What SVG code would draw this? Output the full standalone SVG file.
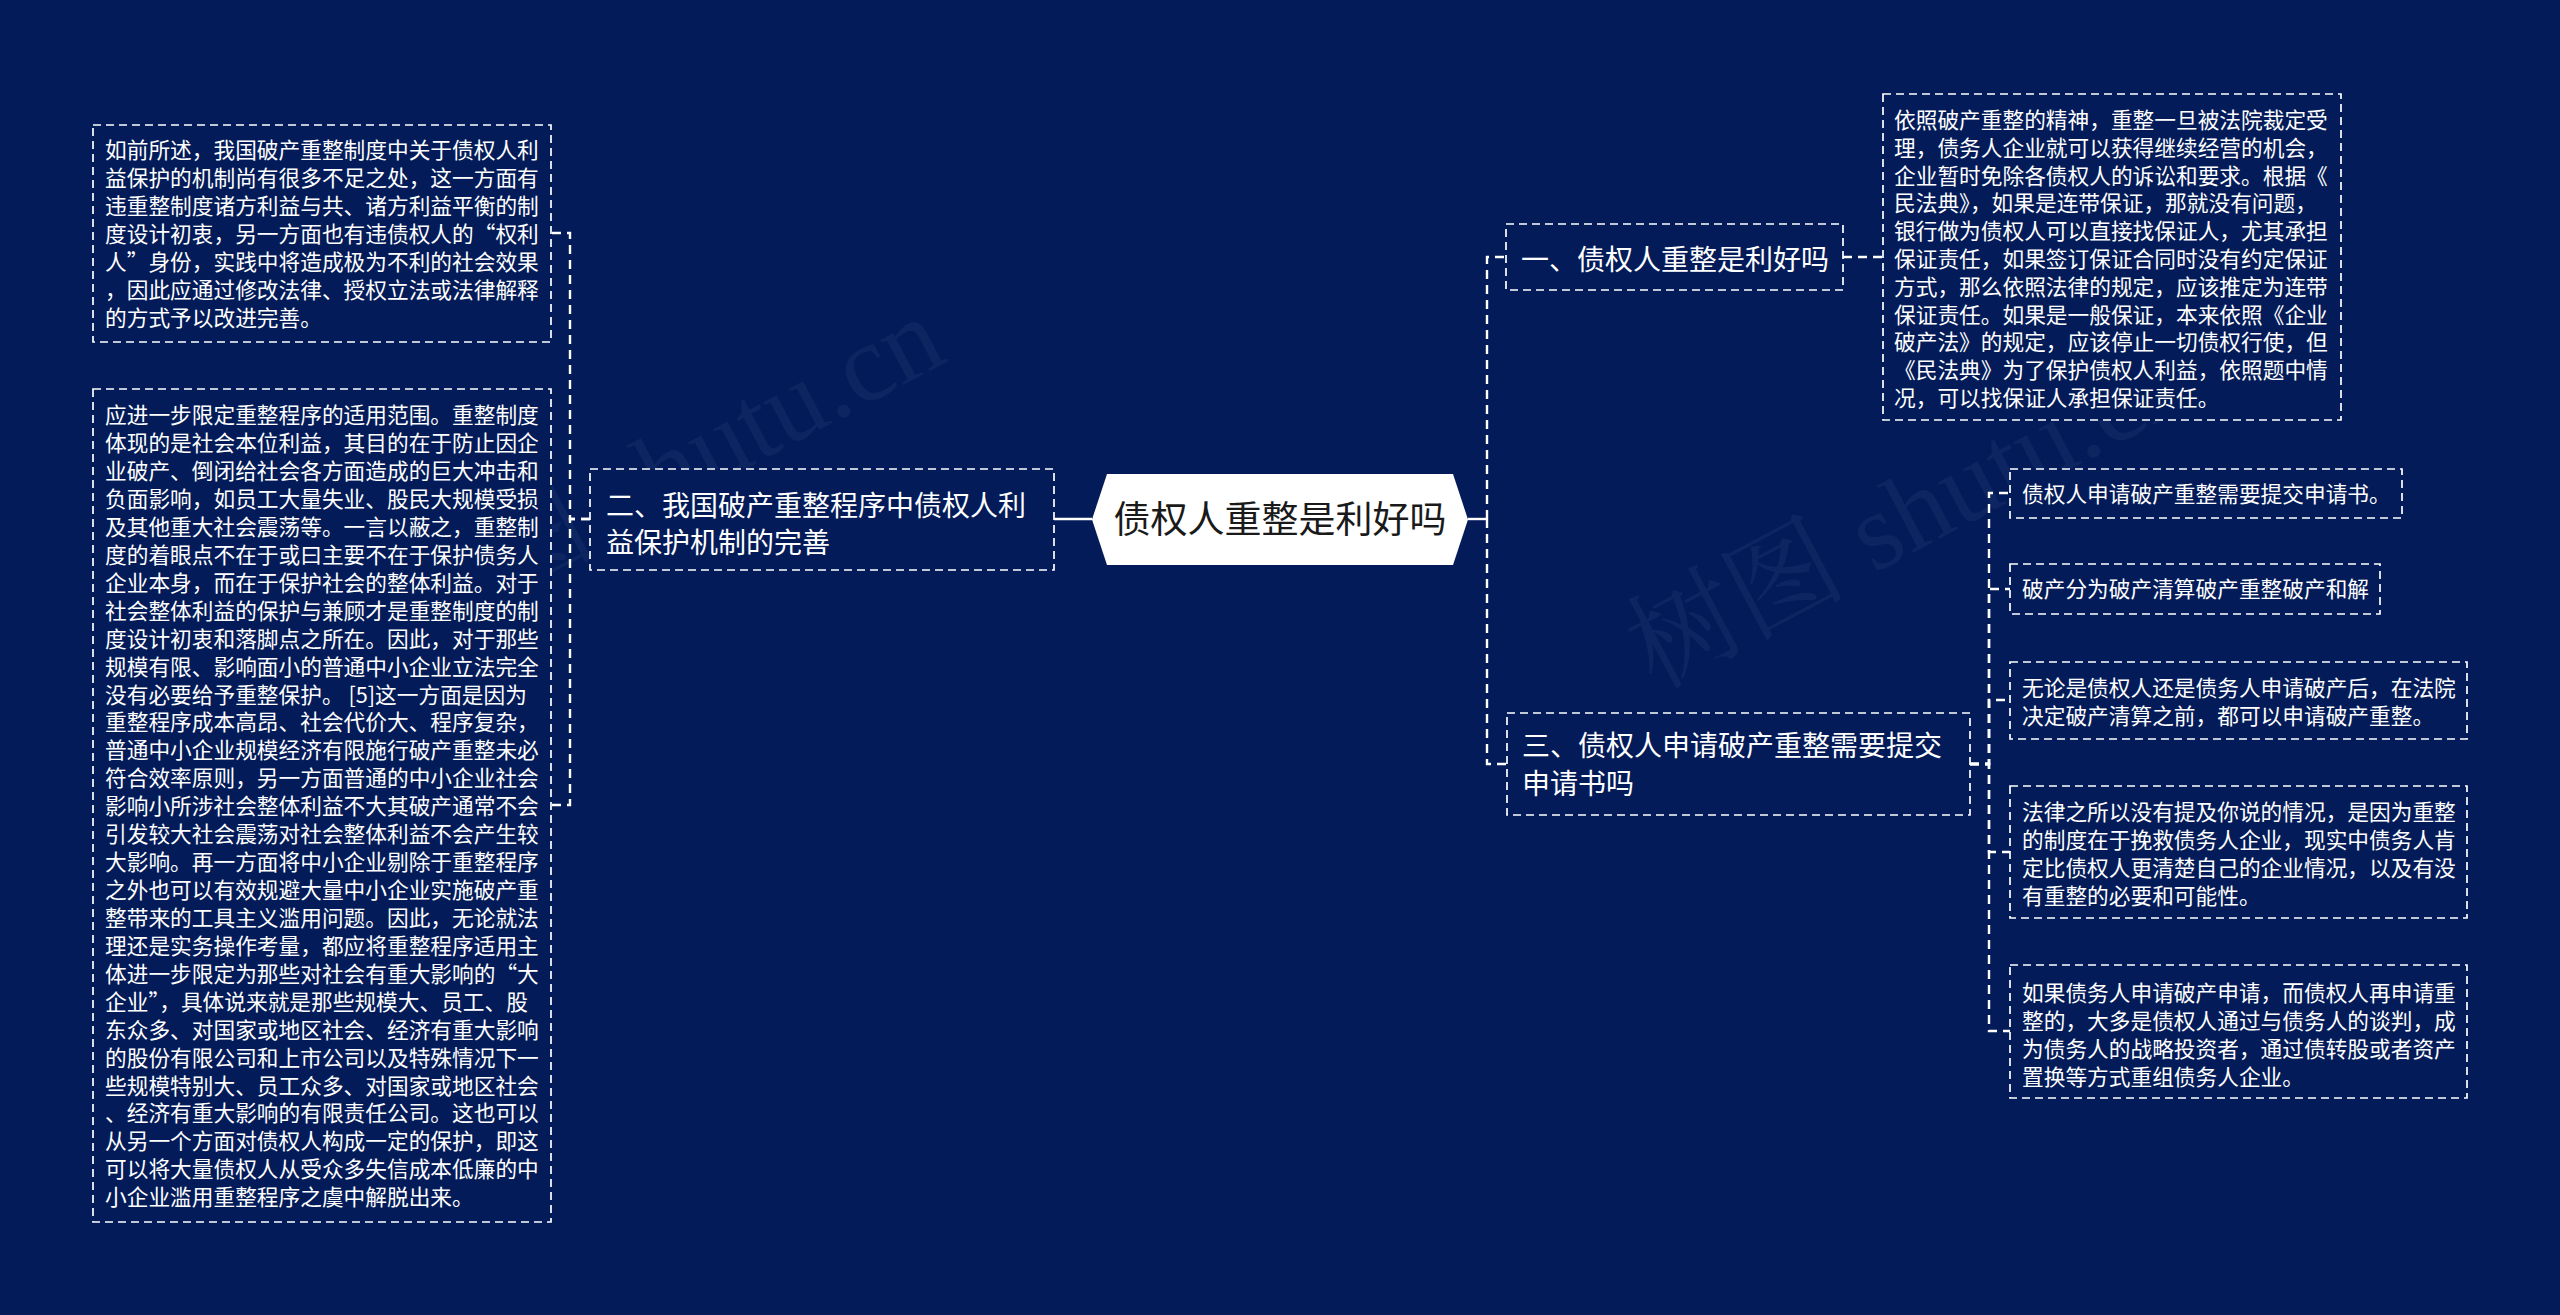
<svg xmlns="http://www.w3.org/2000/svg" width="2560" height="1315" viewBox="0 0 2560 1315">
<style>
.bg{fill:#031c59}
.box{fill:#031c59;stroke:#ffffff;stroke-width:1.7;stroke-dasharray:8 5}
.t{font-family:"Noto Sans CJK SC","Noto Sans",sans-serif;fill:#ffffff}
.s{font-size:21.7px}
.m{font-size:28px}
.c{font-size:37px;fill:#1a1a1a}
.wm{font-family:"Liberation Serif","Noto Serif CJK SC","Noto Sans CJK SC",serif;font-size:110px;fill:#ffffff;fill-opacity:0.045}
#connectors path{fill:none;stroke:#ffffff;stroke-width:2.4;stroke-dasharray:9 6}
#connectors path.solid{stroke-dasharray:none}
</style>
<rect class="bg" x="0" y="0" width="2560" height="1315"/>
<text class="wm" transform="translate(405,650) rotate(-28)">树图 shutu.cn</text>
<text class="wm" transform="translate(1655,690) rotate(-28)">树图 shutu.cn</text>
<g id="connectors">
<path class="solid" d="M1092,519 H1054"/>
<path d="M590,519 H570 V233 H551"/>
<path d="M590,519 H570 V805 H551"/>
<path class="solid" d="M1468,519 H1487"/>
<path d="M1487,519 V257 H1506"/>
<path d="M1487,519 V764 H1507"/>
<path d="M1843,257 H1883"/>
<path d="M1970,764 H1989 V493 H2010"/>
<path d="M1970,764 H1989 V589 H2010"/>
<path d="M1970,764 H1989 V700 H2010"/>
<path d="M1970,764 H1989 V852 H2010"/>
<path d="M1970,764 H1989 V1031 H2010"/>
</g>
<g id="root">
<polygon points="1092,519.5 1107,474 1453,474 1468,519.5 1453,565 1107,565" fill="#ffffff"/>
<text class="t c" x="1280" y="533" text-anchor="middle">债权人重整是利好吗</text>
</g>
<g id="n1">
<rect class="box" x="1506" y="224" width="337" height="66"/>
<text class="t m" x="1521" y="270">一、债权人重整是利好吗</text>
</g>
<g id="n1a">
<rect class="box" x="1883" y="94" width="458" height="326"/>
<text class="t s" x="1894">
<tspan x="1894" y="128">依照破产重整的精神，重整一旦被法院裁定受</tspan>
<tspan x="1894" y="155.8">理，债务人企业就可以获得继续经营的机会，</tspan>
<tspan x="1894" y="183.6">企业暂时免除各债权人的诉讼和要求。根据《</tspan>
<tspan x="1894" y="211.4">民法典》，如果是连带保证，那就没有问题，</tspan>
<tspan x="1894" y="239.2">银行做为债权人可以直接找保证人，尤其承担</tspan>
<tspan x="1894" y="267">保证责任，如果签订保证合同时没有约定保证</tspan>
<tspan x="1894" y="294.8">方式，那么依照法律的规定，应该推定为连带</tspan>
<tspan x="1894" y="322.6">保证责任。如果是一般保证，本来依照《企业</tspan>
<tspan x="1894" y="350.4">破产法》的规定，应该停止一切债权行使，但</tspan>
<tspan x="1894" y="378.2">《民法典》为了保护债权人利益，依照题中情</tspan>
<tspan x="1894" y="406">况，可以找保证人承担保证责任。</tspan>
</text>
</g>
<g id="n2">
<rect class="box" x="590" y="469" width="464" height="101"/>
<text class="t m"><tspan x="606" y="515.5">二、我国破产重整程序中债权人利</tspan><tspan x="606" y="552.5">益保护机制的完善</tspan></text>
</g>
<g id="n2a">
<rect class="box" x="93" y="125" width="458" height="217"/>
<text class="t s">
<tspan x="105" y="158.2">如前所述，我国破产重整制度中关于债权人利</tspan>
<tspan x="105" y="186.2">益保护的机制尚有很多不足之处，这一方面有</tspan>
<tspan x="105" y="214.2">违重整制度诸方利益与共、诸方利益平衡的制</tspan>
<tspan x="105" y="242.2">度设计初衷，另一方面也有违债权人的“权利</tspan>
<tspan x="105" y="270.2">人”身份，实践中将造成极为不利的社会效果</tspan>
<tspan x="105" y="298.2">，因此应通过修改法律、授权立法或法律解释</tspan>
<tspan x="105" y="326.2">的方式予以改进完善。</tspan>
</text>
</g>
<g id="n2b">
<rect class="box" x="93" y="389" width="458" height="833"/>
<text class="t s">
<tspan x="105" y="423.2">应进一步限定重整程序的适用范围。重整制度</tspan>
<tspan x="105" y="451.1">体现的是社会本位利益，其目的在于防止因企</tspan>
<tspan x="105" y="479.1">业破产、倒闭给社会各方面造成的巨大冲击和</tspan>
<tspan x="105" y="507">负面影响，如员工大量失业、股民大规模受损</tspan>
<tspan x="105" y="534.9">及其他重大社会震荡等。一言以蔽之，重整制</tspan>
<tspan x="105" y="562.9">度的着眼点不在于或曰主要不在于保护债务人</tspan>
<tspan x="105" y="590.8">企业本身，而在于保护社会的整体利益。对于</tspan>
<tspan x="105" y="618.7">社会整体利益的保护与兼顾才是重整制度的制</tspan>
<tspan x="105" y="646.6">度设计初衷和落脚点之所在。因此，对于那些</tspan>
<tspan x="105" y="674.6">规模有限、影响面小的普通中小企业立法完全</tspan>
<tspan x="105" y="702.5">没有必要给予重整保护。 [5]这一方面是因为</tspan>
<tspan x="105" y="730.4">重整程序成本高昂、社会代价大、程序复杂，</tspan>
<tspan x="105" y="758.4">普通中小企业规模经济有限施行破产重整未必</tspan>
<tspan x="105" y="786.3">符合效率原则，另一方面普通的中小企业社会</tspan>
<tspan x="105" y="814.2">影响小所涉社会整体利益不大其破产通常不会</tspan>
<tspan x="105" y="842.2">引发较大社会震荡对社会整体利益不会产生较</tspan>
<tspan x="105" y="870.1">大影响。再一方面将中小企业剔除于重整程序</tspan>
<tspan x="105" y="898">之外也可以有效规避大量中小企业实施破产重</tspan>
<tspan x="105" y="925.9">整带来的工具主义滥用问题。因此，无论就法</tspan>
<tspan x="105" y="953.9">理还是实务操作考量，都应将重整程序适用主</tspan>
<tspan x="105" y="981.8">体进一步限定为那些对社会有重大影响的“大</tspan>
<tspan x="105" y="1009.7">企业”，具体说来就是那些规模大、员工、股</tspan>
<tspan x="105" y="1037.7">东众多、对国家或地区社会、经济有重大影响</tspan>
<tspan x="105" y="1065.6">的股份有限公司和上市公司以及特殊情况下一</tspan>
<tspan x="105" y="1093.5">些规模特别大、员工众多、对国家或地区社会</tspan>
<tspan x="105" y="1121.4">、经济有重大影响的有限责任公司。这也可以</tspan>
<tspan x="105" y="1149.4">从另一个方面对债权人构成一定的保护，即这</tspan>
<tspan x="105" y="1177.3">可以将大量债权人从受众多失信成本低廉的中</tspan>
<tspan x="105" y="1205.2">小企业滥用重整程序之虞中解脱出来。</tspan>
</text>
</g>
<g id="n3">
<rect class="box" x="1507" y="713" width="463" height="102"/>
<text class="t m"><tspan x="1522" y="755.5">三、债权人申请破产重整需要提交</tspan><tspan x="1522" y="793.5">申请书吗</tspan></text>
</g>
<g id="n3a">
<rect class="box" x="2010" y="469" width="392" height="49"/>
<text class="t s" x="2022" y="502">债权人申请破产重整需要提交申请书。</text>
</g>
<g id="n3b">
<rect class="box" x="2010" y="564" width="370" height="50"/>
<text class="t s" x="2022" y="597">破产分为破产清算破产重整破产和解</text>
</g>
<g id="n3c">
<rect class="box" x="2010" y="662" width="457" height="77"/>
<text class="t s"><tspan x="2022" y="696.2">无论是债权人还是债务人申请破产后，在法院</tspan><tspan x="2022" y="724.2">决定破产清算之前，都可以申请破产重整。</tspan></text>
</g>
<g id="n3d">
<rect class="box" x="2010" y="786" width="457" height="132"/>
<text class="t s"><tspan x="2022" y="820.2">法律之所以没有提及你说的情况，是因为重整</tspan><tspan x="2022" y="848.2">的制度在于挽救债务人企业，现实中债务人肯</tspan><tspan x="2022" y="876.2">定比债权人更清楚自己的企业情况，以及有没</tspan><tspan x="2022" y="904.2">有重整的必要和可能性。</tspan></text>
</g>
<g id="n3e">
<rect class="box" x="2010" y="965" width="457" height="133"/>
<text class="t s"><tspan x="2022" y="1001.2">如果债务人申请破产申请，而债权人再申请重</tspan><tspan x="2022" y="1029.2">整的，大多是债权人通过与债务人的谈判，成</tspan><tspan x="2022" y="1057.2">为债务人的战略投资者，通过债转股或者资产</tspan><tspan x="2022" y="1085.2">置换等方式重组债务人企业。</tspan></text>
</g>
</svg>
